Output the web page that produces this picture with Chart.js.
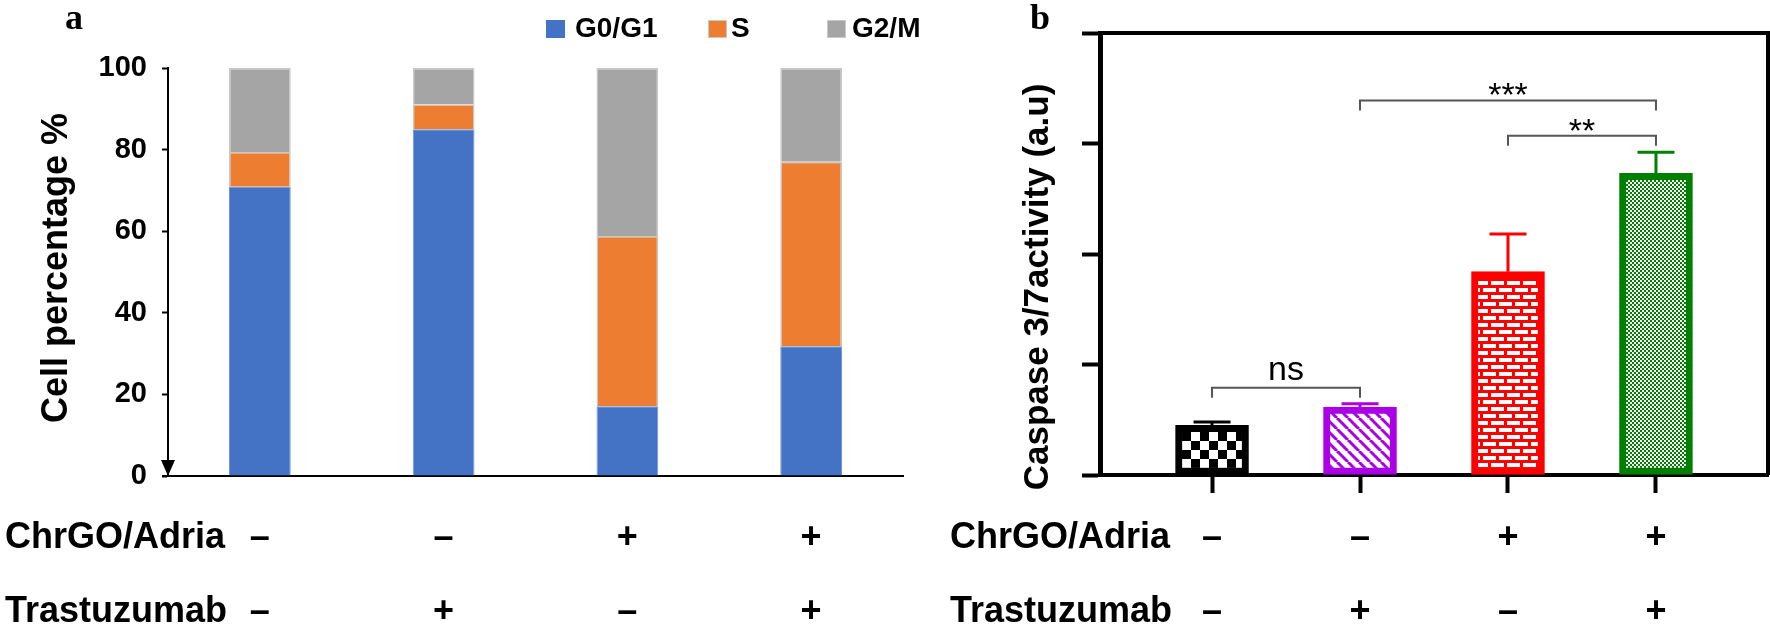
<!DOCTYPE html>
<html>
<head>
<meta charset="utf-8">
<script src="https://cdn.jsdelivr.net/npm/chart.js@4.4.0/dist/chart.umd.min.js"></script>
<style>
  html, body { margin: 0; padding: 0; background: #fff; }
  #boxA { position: absolute; left: 0; top: 0; }
  #boxB { position: absolute; left: 930px; top: 0; }
</style>
</head>
<body>
<canvas id="boxA" width="930" height="625"></canvas>
<canvas id="boxB" width="840" height="625"></canvas>
<script>
const SANS = '"Liberation Sans", Arial, sans-serif';
const SERIF = '"Liberation Serif", "Times New Roman", serif';

// treatment groups (same in both panels)
const groups = ['G1', 'G2', 'G3', 'G4'];
const rowNames = ['ChrGO/Adria', 'Trastuzumab'];
const chrgoSigns = ['\u2013', '\u2013', '+', '+'];
const trastSigns = ['\u2013', '+', '\u2013', '+'];

// panel a : cell cycle distribution (%)
const phaseNames = ['G0/G1', 'S', 'G2/M'];
const g0g1 = [70.9, 85.0, 17.1, 31.8];
const sPhase = [8.5, 6.1, 41.7, 45.2];
const g2m = [20.6, 8.9, 41.2, 23.0];

// panel b : caspase 3/7 activity (a.u)
const caspase = [0.45, 0.615, 1.84, 2.73];
const caspaseErr = [0.03, 0.03, 0.34, 0.19];
const comparisons = [
  { from: 0, to: 1, label: 'ns', level: 0.79 },
  { from: 1, to: 3, label: '***', level: 3.39 },
  { from: 2, to: 3, label: '**', level: 3.07 }
];

// ---------- helpers ----------
function verticalTitle(ctx, text, cx, cy, font) {
  ctx.save();
  ctx.translate(cx, cy);
  ctx.rotate(-Math.PI / 2);
  ctx.font = font;
  ctx.fillStyle = '#000';
  ctx.textAlign = 'center';
  ctx.textBaseline = 'middle';
  ctx.fillText(text, 0, 0);
  ctx.restore();
}

function treatmentRows(chart, labelX) {
  const { ctx, scales: { x } } = chart;
  ctx.save();
  ctx.fillStyle = '#000';
  ctx.font = 'bold 36px ' + SANS;
  ctx.textBaseline = 'middle';
  ctx.textAlign = 'left';
  ctx.fillText(rowNames[0], labelX, 538);
  ctx.fillText(rowNames[1], labelX, 612);
  ctx.textAlign = 'center';
  groups.forEach((g, i) => {
    const px = x.getPixelForValue(i);
    ctx.fillText(chrgoSigns[i], px, 538);
    ctx.fillText(trastSigns[i], px, 612);
  });
  ctx.restore();
}

function makePattern(size, draw) {
  const c = document.createElement('canvas');
  c.width = size[0];
  c.height = size[1];
  const p = c.getContext('2d');
  draw(p, size[0], size[1]);
  return document.getElementById('boxB').getContext('2d').createPattern(c, 'repeat');
}

// ---------- panel a ----------
const cycleExtras = {
  id: 'cycleExtras',
  afterDraw(chart) {
    const { ctx, scales: { y } } = chart;
    ctx.save();
    // little arrow head at the bottom of the y axis
    const ax = y.right, ay = y.getPixelForValue(0);
    ctx.fillStyle = '#000';
    ctx.beginPath();
    ctx.moveTo(ax - 7, ay - 16);
    ctx.lineTo(ax + 7, ay - 16);
    ctx.lineTo(ax, ay);
    ctx.closePath();
    ctx.fill();
    // axis line runs a bit past the y axis, like the tick marks
    ctx.fillRect(ax - 6, ay - 1, 6, 2);

    // legend
    const colors = ['#4472C4', '#ED7D31', '#A5A5A5'];
    const boxX = [546, 708, 827];
    const textX = [575, 731, 852];
    ctx.font = 'bold 28px ' + SANS;
    ctx.textBaseline = 'middle';
    ctx.textAlign = 'left';
    phaseNames.forEach((n, i) => {
      ctx.fillStyle = colors[i];
      ctx.fillRect(boxX[i], 20, 19, 18);
      if (i > 0) {
        ctx.strokeStyle = '#c8c8c8';
        ctx.lineWidth = 1;
        ctx.strokeRect(boxX[i] + 0.5, 20.5, 18, 17);
      }
      ctx.fillStyle = '#000';
      ctx.fillText(n, textX[i], 29);
    });

    // panel letter and y title
    ctx.font = 'bold 36px ' + SERIF;
    ctx.textAlign = 'left';
    ctx.textBaseline = 'alphabetic';
    ctx.fillText('a', 65, 29);
    ctx.restore();
    verticalTitle(ctx, 'Cell percentage %', 57, 268, 'bold 36px ' + SANS);
    treatmentRows(chart, 5);
  }
};

new Chart(document.getElementById('boxA'), {
  type: 'bar',
  data: {
    labels: groups,
    datasets: [
      { label: phaseNames[0], data: g0g1, backgroundColor: '#4472C4', borderColor: '#6d95dc', borderWidth: 1 },
      { label: phaseNames[1], data: sPhase, backgroundColor: '#ED7D31', borderColor: '#c8c8c8', borderWidth: 1.5 },
      { label: phaseNames[2], data: g2m, backgroundColor: '#A5A5A5', borderColor: '#c8c8c8', borderWidth: 1.5 }
    ]
  },
  options: {
    responsive: false,
    animation: false,
    barPercentage: 0.336,
    categoryPercentage: 1,
    layout: { padding: { left: 0, right: 27, top: 68, bottom: 0 } },
    plugins: { legend: { display: false }, tooltip: { enabled: false } },
    scales: {
      x: {
        stacked: true,
        offset: true,
        grid: { display: false },
        border: { display: true, color: '#000', width: 2 },
        ticks: { display: false },
        afterFit: (s) => { s.height = 149; }
      },
      y: {
        stacked: true,
        min: 0,
        max: 100,
        ticks: { stepSize: 20, padding: 15, color: '#000', font: { family: SANS, size: 29, weight: 'bold' } },
        grid: { drawOnChartArea: false, tickLength: 6, tickWidth: 2, color: '#000' },
        border: { display: true, color: '#000', width: 2 },
        afterFit: (s) => { s.width = 168; }
      }
    }
  },
  plugins: [cycleExtras]
});

// ---------- panel b ----------
const checker = makePattern([18, 18], (p) => {
  p.fillStyle = '#fff'; p.fillRect(0, 0, 18, 18);
  p.fillStyle = '#000'; p.fillRect(0, 0, 9, 9); p.fillRect(9, 9, 9, 9);
});
const stripes = makePattern([11, 11], (p) => {
  p.fillStyle = '#fff'; p.fillRect(0, 0, 11, 11);
  p.strokeStyle = '#A900E6'; p.lineWidth = 3;
  [-11, 0, 11].forEach(k => { p.beginPath(); p.moveTo(k, 0); p.lineTo(k + 11, 11); p.stroke(); });
});
const bricks = makePattern([16, 14], (p) => {
  p.fillStyle = '#FF0000'; p.fillRect(0, 0, 16, 14);
  p.fillStyle = '#fff';
  p.fillRect(1, 1, 13, 4);
  p.fillRect(9, 8, 7, 4); p.fillRect(0, 8, 6, 4);
});
const dots = makePattern([4, 4], (p) => {
  p.fillStyle = '#fff'; p.fillRect(0, 0, 4, 4);
  p.fillStyle = '#007F00'; p.fillRect(0, 0, 2, 2); p.fillRect(2, 2, 2, 2);
});
const edgeColors = ['#000000', '#A900E6', '#FF0000', '#007F00'];

const caspaseExtras = {
  id: 'caspaseExtras',
  afterDatasetsDraw(chart) {
    const { ctx, chartArea: a, scales: { x, y } } = chart;
    ctx.save();
    // error bars (upper only)
    caspase.forEach((v, i) => {
      const px = x.getPixelForValue(i);
      const top = y.getPixelForValue(v + caspaseErr[i]);
      ctx.strokeStyle = edgeColors[i];
      ctx.lineWidth = 3;
      ctx.beginPath();
      ctx.moveTo(px, y.getPixelForValue(v));
      ctx.lineTo(px, top);
      ctx.moveTo(px - 18.5, top);
      ctx.lineTo(px + 18.5, top);
      ctx.stroke();
    });
    // frame top and right
    ctx.strokeStyle = '#000';
    ctx.lineWidth = 4;
    ctx.beginPath();
    ctx.moveTo(a.left, a.top);
    ctx.lineTo(a.right, a.top);
    ctx.lineTo(a.right, a.bottom);
    ctx.stroke();
    // significance brackets
    comparisons.forEach(c => {
      const x1 = x.getPixelForValue(c.from), x2 = x.getPixelForValue(c.to);
      const ly = y.getPixelForValue(c.level);
      ctx.strokeStyle = '#555';
      ctx.lineWidth = 2;
      ctx.beginPath();
      ctx.moveTo(x1, ly + 10);
      ctx.lineTo(x1, ly);
      ctx.lineTo(x2, ly);
      ctx.lineTo(x2, ly + 10);
      ctx.stroke();
      ctx.fillStyle = '#000';
      ctx.font = '34px ' + SANS;
      ctx.textAlign = 'center';
      ctx.textBaseline = 'alphabetic';
      const isStar = c.label.indexOf('*') >= 0;
      ctx.fillText(c.label, (x1 + x2) / 2, isStar ? ly + 6 : ly - 8);
    });
    ctx.restore();
  },
  afterDraw(chart) {
    const { ctx } = chart;
    ctx.save();
    ctx.fillStyle = '#000';
    ctx.font = 'bold 36px ' + SERIF;
    ctx.textBaseline = 'alphabetic';
    ctx.fillText('b', 100, 29);
    ctx.restore();
    verticalTitle(ctx, 'Caspase 3/7activity (a.u)', 108, 287, 'bold 35px ' + SANS);
    treatmentRows(chart, 20);
  }
};

new Chart(document.getElementById('boxB'), {
  type: 'bar',
  data: {
    datasets: [{
      data: caspase.map((v, i) => ({ x: i, y: v })),
      backgroundColor: [checker, stripes, bricks, dots],
      borderColor: edgeColors,
      borderWidth: 7,
      borderSkipped: false,
      barThickness: 73
    }]
  },
  options: {
    responsive: false,
    animation: false,
    layout: { padding: { left: 0, right: 2, top: 33, bottom: 0 } },
    plugins: { legend: { display: false }, tooltip: { enabled: false } },
    scales: {
      x: {
        type: 'linear',
        offset: false,
        min: -0.757,
        max: 3.757,
        afterBuildTicks: (s) => { s.ticks = groups.map((g, i) => ({ value: i })); },
        ticks: { display: false },
        grid: { offset: false, drawOnChartArea: false, tickLength: 18, tickWidth: 4, color: '#000' },
        border: { display: true, color: '#000', width: 4 },
        afterFit: (s) => { s.height = 150; }
      },
      y: {
        min: 0,
        max: 4,
        ticks: { display: false, stepSize: 1 },
        grid: { drawOnChartArea: false, tickLength: 18, tickWidth: 4, color: '#000' },
        border: { display: true, color: '#000', width: 5 },
        afterFit: (s) => { s.width = 170; }
      }
    }
  },
  plugins: [caspaseExtras]
});
</script>
</body>
</html>
